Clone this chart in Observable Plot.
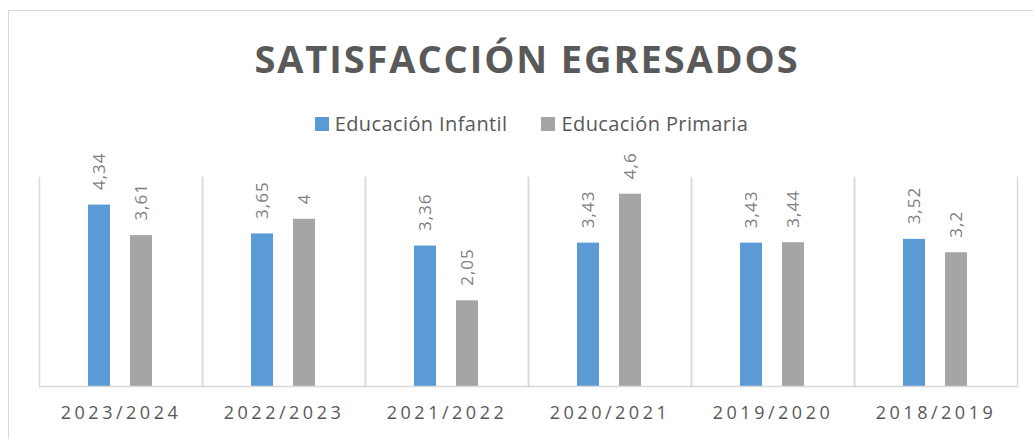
<!DOCTYPE html>
<html>
<head>
<meta charset="utf-8">
<script src="https://cdn.jsdelivr.net/npm/d3@7"></script>
<script src="https://cdn.jsdelivr.net/npm/@observablehq/plot@0.6"></script>
<style>
  html, body { margin: 0; padding: 0; background: #fff; width: 1033px; height: 439px; overflow: hidden; }
  body { position: relative; font-family: "Open Sans", sans-serif; }
  #border { position: absolute; left: 8px; top: 10px; width: 1100px; height: 500px; border: 1.5px solid #D9D9D9; box-sizing: border-box; }
  #title { position: absolute; left: 0; width: 1054px; top: 39px; height: 38px; line-height: 38px; text-align: center;
           font-size: 38px; font-weight: 700; color: #595959; letter-spacing: 1.9px; white-space: nowrap; }
  #legend { position: absolute; left: 0; width: 1063px; top: 114px; height: 20px; line-height: 20px; display: flex; justify-content: center;
            font-size: 20px; color: #595959; white-space: nowrap; letter-spacing: 0.4px; }
  .item { display: flex; align-items: flex-start; margin: 0 17px; }
  .sw { width: 14px; height: 14px; margin-top: 3px; margin-right: 6px; }
  #chart { position: absolute; left: 0; top: 140px; }
  #chart svg text { letter-spacing: 1px; }
  #chart g[aria-label="fx-axis tick label"] text { letter-spacing: 3.5px; font-size: 18px; fill: #595959; }
</style>
</head>
<body>
<div id="border"></div>
<div id="title">SATISFACCIÓN EGRESADOS</div>
<div id="legend"></div>
<div id="chart"></div>
<script>
const years = ["2023/2024", "2022/2023", "2021/2022", "2020/2021", "2019/2020", "2018/2019"];
const seriesNames = ["Educación Infantil", "Educación Primaria"];
const infantil = [4.34, 3.65, 3.36, 3.43, 3.43, 3.52];
const primaria = [3.61, 4, 2.05, 4.6, 3.44, 3.2];
const colors = ["#5B9BD5", "#A5A5A5"];

const data = [];
years.forEach((y, i) => {
  data.push({year: y, serie: seriesNames[0], value: infantil[i]});
  data.push({year: y, serie: seriesNames[1], value: primaria[i]});
});

const fmt = v => String(v).replace(".", ",");

const legend = document.getElementById("legend");
seriesNames.forEach((s, i) => {
  const it = document.createElement("div");
  it.className = "item";
  it.innerHTML = `<div class="sw" style="background:${colors[i]}"></div><div>${s}</div>`;
  legend.appendChild(it);
});

const chart = Plot.plot({
  width: 1033,
  height: 299,
  marginTop: 37,
  marginBottom: 53,
  marginLeft: 38,
  marginRight: 15,
  style: {fontFamily: "'Open Sans', sans-serif", background: "transparent"},
  fx: {domain: years, padding: 0, label: null},
  x: {domain: seriesNames, paddingInner: 0.474, paddingOuter: 1.168, axis: null},
  y: {domain: [0, 5], axis: null},
  color: {domain: seriesNames, range: colors},
  marks: [
    Plot.frame({anchor: "left", stroke: "#D9D9D9", strokeWidth: 1.5}),
    Plot.frame({anchor: "right", stroke: "#D9D9D9", strokeWidth: 1.5}),
    Plot.barY(data, {fx: "year", x: "serie", y: "value", fill: "serie"}),
    Plot.ruleY([0], {stroke: "#D9D9D9", strokeWidth: 1.5}),
    Plot.text(data, {fx: "year", x: "serie", y: "value", text: d => fmt(d.value), rotate: -90,
      textAnchor: "start", dy: -15, fontSize: 17, fill: "#7F7F7F"}),
    Plot.axisFx({anchor: "bottom", tickSize: 0, tickPadding: 20, fontSize: 18, fill: "#595959", label: null})
  ]
});
document.getElementById("chart").appendChild(chart);
</script>
</body>
</html>
